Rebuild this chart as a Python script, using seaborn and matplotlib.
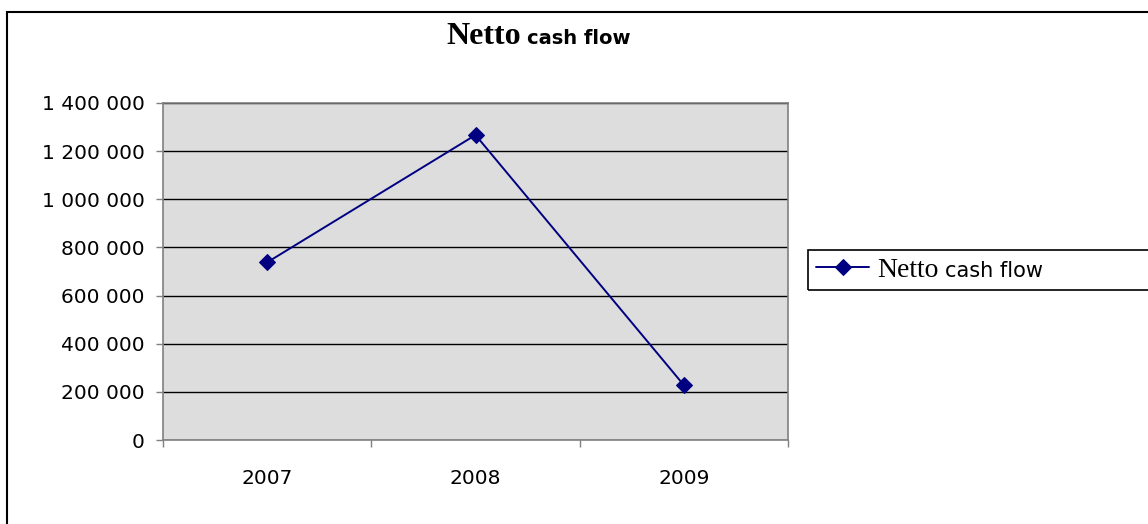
import matplotlib
matplotlib.use("Agg")
import matplotlib.pyplot as plt
import matplotlib.patches as mpatches
from matplotlib.transforms import IdentityTransform
from matplotlib.font_manager import FontProperties
import pandas as pd
import seaborn as sns

# data
years = [2007, 2008, 2009]
cash_flow = [738000, 1267000, 228000]
y_ticks = [0, 200000, 400000, 600000, 800000, 1000000, 1200000, 1400000]

W, H = 1148, 524
NAVY = "#000080"

sns.set_theme(style="white")
plt.rcParams["font.family"] = ["DejaVu Sans"]
plt.rcParams["text.color"] = "black"
plt.rcParams["xtick.color"] = "black"
plt.rcParams["ytick.color"] = "black"


def main() -> None:
    df = pd.DataFrame({"year": years, "value": cash_flow})

    fig = plt.figure(figsize=(W / 100, H / 100), dpi=100)
    fig.patch.set_facecolor("white")
    ax = fig.add_axes([163 / W, 1 - 440 / H, (788 - 163) / W, (440 - 103) / H])
    ax.set_facecolor("#DDDDDD")

    sns.lineplot(data=df, x="year", y="value", ax=ax, color=NAVY, linewidth=1.4,
                 marker="D", markersize=8, markeredgecolor=NAVY, label="Netto")

    # y axis
    ax.set_ylim(0, 1400000)
    ax.set_yticks(y_ticks)
    ax.set_yticklabels([f"{v:,}".replace(",", " ") for v in y_ticks])
    ax.yaxis.grid(True, color="black", linewidth=1)
    ax.set_axisbelow(True)

    # x axis: category boundaries as major ticks, labels on minor ticks
    ax.set_xlim(years[0] - 0.5, years[-1] + 0.5)
    ax.set_xticks([y - 0.5 for y in years] + [years[-1] + 0.5])
    ax.set_xticklabels([])
    ax.set_xticks(years, minor=True)
    ax.set_xticklabels([str(y) for y in years], minor=True)
    ax.tick_params(axis="x", which="minor", length=0, pad=21, labelsize=14.5, labelcolor="black")
    ax.tick_params(axis="x", which="major", length=5, width=1, color="#808080", direction="out", bottom=True)
    ax.tick_params(axis="y", length=5, width=1, color="#808080", direction="out", left=True, pad=8,
                   labelsize=14.5, labelcolor="black")
    ax.set_xlabel("")
    ax.set_ylabel("")
    for s in ax.spines.values():
        s.set_color("#808080")
        s.set_linewidth(1.2)

    # legend
    leg = ax.legend(loc="center left", bbox_to_anchor=(808 / W, 1 - 270 / H),
                    bbox_transform=fig.transFigure, frameon=False,
                    prop=FontProperties(family="Liberation Serif", size=20),
                    handlelength=1.9, handletextpad=0.3, borderpad=0.3, borderaxespad=0)
    fig.add_artist(mpatches.Rectangle((808 / W, 1 - 290 / H), 0.5, 40 / H, transform=fig.transFigure,
                                      fill=False, edgecolor="black", linewidth=1.2))

    # outer chart border
    fig.add_artist(mpatches.Rectangle((7 / W, -0.1), 1.2, 1.1 - 12 / H, transform=fig.transFigure,
                                      fill=False, edgecolor="black", linewidth=1.5))

    # title with mixed fonts
    fig.text(521, H - 44, "Netto", transform=IdentityTransform(), ha="right", va="baseline",
             family="Liberation Serif", fontweight="bold", fontsize=23, color="black")
    fig.text(527, H - 44, "cash flow", transform=IdentityTransform(), ha="left", va="baseline",
             family="DejaVu Sans", fontweight="bold", fontsize=14, color="black")

    fig.canvas.draw()
    txt = leg.get_texts()[0]
    txt.set_color("black")
    bx, by = txt.get_transform().transform(txt.get_position())
    bb = txt.get_window_extent()
    fig.text(bb.x1 + 6, by, "cash flow", transform=IdentityTransform(), ha="left", va="baseline",
             family="DejaVu Sans", fontsize=15, color="black")

    fig.savefig("out.png", dpi=100)


if __name__ == "__main__":
    main()
